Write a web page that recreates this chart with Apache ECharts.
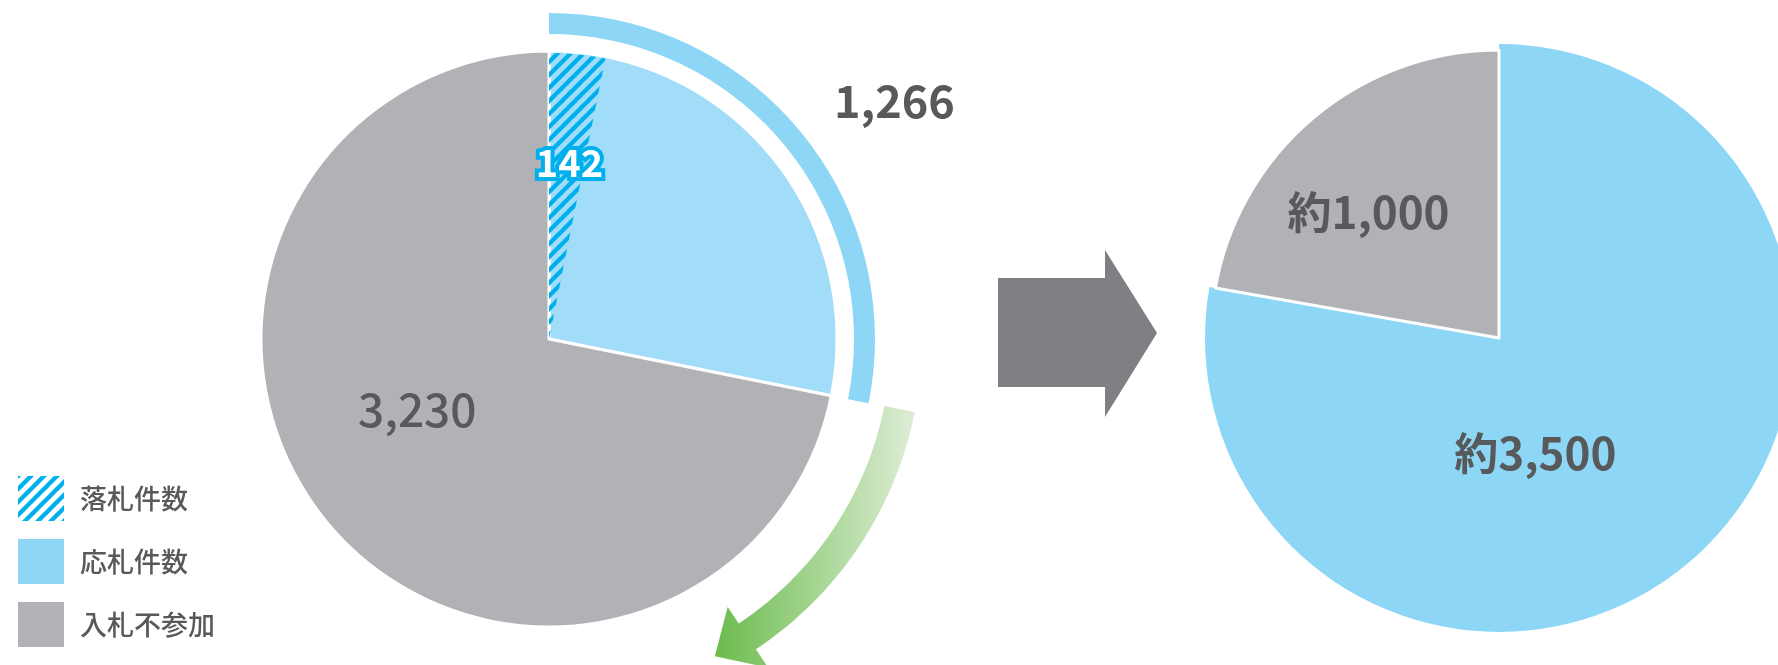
<!DOCTYPE html>
<html><head><meta charset="utf-8">
<script src="https://cdn.jsdelivr.net/npm/echarts@6/dist/echarts.min.js"></script>
<style>html,body{margin:0;padding:0;background:#fff}#c{width:1778px;height:665px}</style>
</head><body><div id="c"></div>
<script>
// ---- data ----
const legendNames = ['落札件数', '応札件数', '入札不参加'];
const wonCount = 142;          // 落札件数
const bidCount = 1266;         // 応札件数
const noBidCount = 3230;       // 入札不参加
const projectedNames = ['応札件数', '入札不参加'];
const projectedValues = [3500, 1000];
const projectedPrefix = '約';

// ---- styles ----
const FONT = '"Noto Sans CJK JP", "Noto Sans", sans-serif';
const TXT = '#58595b';
const GRAY = '#b1b2b6';
const BLUE = '#8dd6f6';
const LIGHTBLUE = '#a1ddf8';
const STRIPE = '#00b0ec';
const fmt = v => v.toLocaleString('en-US');

function stripeCanvas() {
  const s = 13, c = document.createElement('canvas');
  c.width = s; c.height = s;
  const g = c.getContext('2d');
  g.strokeStyle = STRIPE; g.lineWidth = 4.4; g.lineCap = 'butt';
  for (let k = -1; k <= 1; k++) {
    g.beginPath(); g.moveTo(k * s - 2, s + 2); g.lineTo(k * s + s + 2, -2); g.stroke();
  }
  return c;
}
const stripes = { image: stripeCanvas(), repeat: 'repeat' };

const LC = [549, 339];   // left pie centre
const RC = [1499, 338];  // right pie centre
const total = bidCount + noBidCount;

// decorative arrows
function P(r, deg) { const a = deg * Math.PI / 180; return [LC[0] + r * Math.cos(a), LC[1] + r * Math.sin(a)]; }
const greenPts = [];
for (let a = 11.3; a <= 56.3001; a += 1.5) greenPts.push(P(373, a));
greenPts.push(P(373, 56.3), P(395, 56.3), P(358, 62.4), P(322, 56.3), P(342, 56.3));
for (let a = 56.3; a >= 11.2999; a -= 1.5) greenPts.push(P(342, a));
greenPts.push(P(342, 11.3));

const noHover = { disabled: true };
const option = {
  animation: false,
  legend: {
    orient: 'vertical', left: 13, top: 471, itemWidth: 46, itemHeight: 45, itemGap: 18,
    icon: 'rect', selectedMode: false,
    itemStyle: { borderWidth: 0 },
    textStyle: { fontSize: 27, color: TXT, fontFamily: FONT, fontWeight: 500, padding: [0, 0, 0, 11] },
    data: [
      { name: legendNames[0], itemStyle: { color: stripes, borderWidth: 0 } },
      { name: legendNames[1], itemStyle: { color: BLUE, borderWidth: 0 } },
      { name: legendNames[2], itemStyle: { color: GRAY, borderWidth: 0 } }
    ]
  },
  graphic: [
    { type: 'polygon', silent: true,
      shape: { points: [[998, 278], [1105, 278], [1105, 250], [1157, 333], [1105, 417], [1105, 387], [998, 387]] },
      style: { fill: '#808084' } },
    { type: 'polygon', silent: true, shape: { points: greenPts },
      style: { fill: { type: 'linear', x: 712, y: 0, x2: 918, y2: 0, global: true,
        colorStops: [{ offset: 0, color: '#69bb4a' }, { offset: 1, color: '#e0eed9' }] } } }
  ],
  series: [
    { // left pie: 応札 / 入札不参加
      type: 'pie', center: LC, radius: [0, 288], startAngle: 90, clockwise: true,
      silent: true, emphasis: noHover, avoidLabelOverlap: false,
      itemStyle: { borderColor: '#fff', borderWidth: 3 },
      labelLine: { show: false },
      label: { show: true, position: 'inside', formatter: p => fmt(p.value),
        fontSize: 46, fontFamily: FONT, fontWeight: 500, color: TXT },
      labelLayout: p => (p.dataIndex === 1 ? { dx: -18, dy: -23 } : {}),
      data: [
        { name: legendNames[1], value: bidCount, itemStyle: { color: LIGHTBLUE }, label: { show: false } },
        { name: legendNames[2], value: noBidCount, itemStyle: { color: GRAY } }
      ]
    },
    { // hatched overlay: 落札件数
      type: 'pie', center: LC, radius: [0, 286], startAngle: 90, clockwise: true,
      silent: true, emphasis: noHover, avoidLabelOverlap: false,
      labelLine: { show: false },
      label: { show: false },
      labelLayout: p => (p.dataIndex === 0 ? { dx: 6, dy: -31 } : {}),
      data: [
        { name: legendNames[0], value: wonCount, itemStyle: { color: stripes },
          label: { show: true, position: 'inside', formatter: p => fmt(p.value), fontSize: 38,
            fontFamily: FONT, fontWeight: 'bold', color: '#fff', textBorderColor: STRIPE, textBorderWidth: 8 } },
        { name: '_rest', value: total - wonCount, itemStyle: { color: 'rgba(0,0,0,0)' } }
      ]
    },
    { // outer ring: 応札件数
      type: 'pie', center: LC, radius: [305, 326], startAngle: 90, clockwise: true,
      silent: true, emphasis: noHover, avoidLabelOverlap: false,
      labelLine: { show: false },
      label: { show: false },
      labelLayout: p => (p.dataIndex === 0 ? { dx: 99, dy: -36 } : {}),
      data: [
        { name: legendNames[1], value: bidCount, itemStyle: { color: BLUE },
          label: { show: true, position: 'inside', formatter: p => fmt(p.value), fontSize: 45,
            fontFamily: FONT, fontWeight: 'bold', color: TXT } },
        { name: '_rest2', value: noBidCount, itemStyle: { color: 'rgba(0,0,0,0)' } }
      ]
    },
    { // right pie, blue part
      type: 'pie', center: RC, radius: [0, 294], startAngle: 90, clockwise: true,
      silent: true, emphasis: noHover, avoidLabelOverlap: false,
      labelLine: { show: false },
      label: { show: false },
      labelLayout: p => (p.dataIndex === 0 ? { dx: -60, dy: 0 } : {}),
      data: [
        { name: projectedNames[0], value: projectedValues[0], itemStyle: { color: BLUE },
          label: { show: true, position: 'inside', formatter: p => projectedPrefix + fmt(p.value), fontSize: 44,
            fontFamily: FONT, fontWeight: 'bold', color: TXT } },
        { name: '_rest3', value: projectedValues[1], itemStyle: { color: 'rgba(0,0,0,0)' } }
      ]
    },
    { // right pie, gray part
      type: 'pie', center: RC, radius: [0, 288], startAngle: 90, clockwise: true,
      silent: true, emphasis: noHover, avoidLabelOverlap: false,
      labelLine: { show: false },
      label: { show: false },
      labelLayout: p => (p.dataIndex === 1 ? { dx: -36, dy: -13 } : {}),
      data: [
        { name: '_rest4', value: projectedValues[0], itemStyle: { color: 'rgba(0,0,0,0)' } },
        { name: projectedNames[1], value: projectedValues[1], itemStyle: { color: GRAY, borderColor: '#fff', borderWidth: 3 },
          label: { show: true, position: 'inside', formatter: p => projectedPrefix + fmt(p.value), fontSize: 44,
            fontFamily: FONT, fontWeight: 'bold', color: TXT } }
      ]
    }
  ]
};
const chart = echarts.init(document.getElementById('c'), null, { renderer: 'canvas' });
chart.setOption(option);
</script></body></html>
